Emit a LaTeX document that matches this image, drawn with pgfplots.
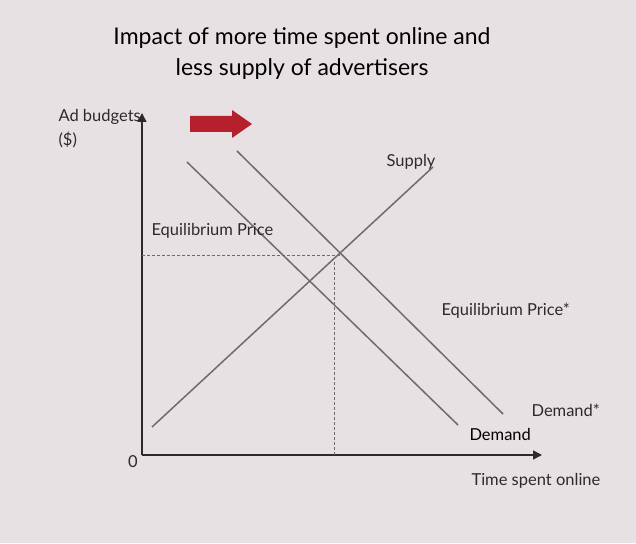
\documentclass[border=0pt]{standalone}
\usepackage{pgfplots}
\pgfplotsset{compat=1.18}
\usetikzlibrary{arrows.meta}
\usepackage{fontspec}
\setmainfont{Lato}
\definecolor{bg}{HTML}{E8E1E4}
\definecolor{ln}{HTML}{6F6A6D}
\definecolor{ax}{HTML}{2B2B2B}
\definecolor{rd}{HTML}{B61F2C}
\begin{document}
\begin{tikzpicture}
\begin{axis}[hide axis, scale only axis, width=636pt, height=543pt,
  xmin=0, xmax=636, ymin=-543, ymax=0, clip=false]
\addplot[fill=bg, draw=none] coordinates {(0,0) (636,0) (636,-543) (0,-543)} -- cycle;
\addplot[fill=rd, draw=none] coordinates {(190,-116) (232,-116) (232,-110) (252,-124) (232,-138) (232,-132) (190,-132)} -- cycle;
\addplot[ax, line width=1.6pt, -{Triangle[length=9pt,width=9pt]}] coordinates {(142,-455) (142,-113)};
\addplot[ax, line width=1.6pt, -{Triangle[length=9pt,width=9pt]}] coordinates {(142,-455) (542,-455)};
\addplot[ln, line width=1.5pt] coordinates {(152,-427) (433,-167)};
\addplot[ln, line width=1.5pt] coordinates {(187,-162) (458,-425)};
\addplot[ln, line width=1.5pt] coordinates {(237,-151) (503,-414)};
\addplot[ln, line width=1pt, dash pattern=on 3pt off 2pt] coordinates {(142,-256) (340,-256)};
\addplot[ln, line width=1pt, dash pattern=on 3pt off 2pt] coordinates {(334,-455) (334,-262)};
\node[font=\fontsize{23}{31}\selectfont, text=black, align=center] at (axis cs:302,-54) {Impact of more time spent online and\\less supply of advertisers};
\tikzset{lb/.style={font=\fontsize{16.5}{24}\selectfont, text=ax}}
\node[lb, anchor=west, align=left] at (axis cs:55,-129) {Ad budgets\\(\$)};
\node[lb, anchor=west] at (axis cs:383,-162) {Supply};
\node[lb, anchor=west] at (axis cs:148,-231) {Equilibrium Price};
\node[lb, anchor=west] at (axis cs:438,-311) {Equilibrium Price*};
\node[lb, anchor=west] at (axis cs:528,-410) {Demand*};
\node[lb, anchor=west, text=black] at (axis cs:466,-434) {Demand};
\node[lb] at (axis cs:133,-462) {0};
\node[lb, anchor=west] at (axis cs:468,-481) {Time spent online};
\end{axis}
\end{tikzpicture}
\end{document}
